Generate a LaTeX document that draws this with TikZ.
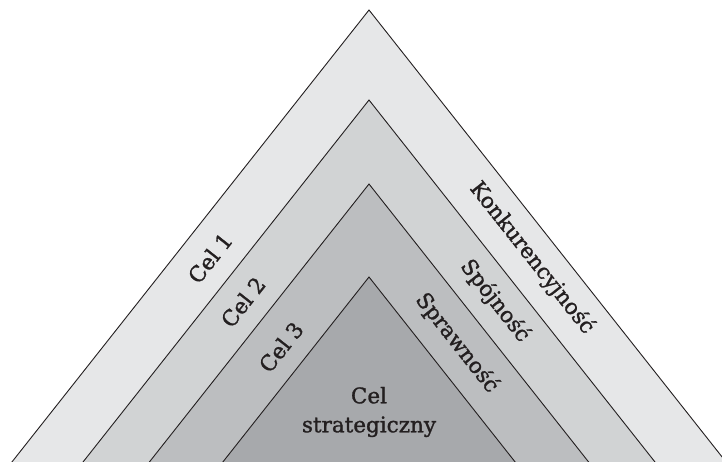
\documentclass[tikz,border=0pt]{standalone}
\usepackage{fontspec}
\setmainfont{DejaVu Serif}
\newfontfamily\labelfont{DejaVu Serif}[FakeBold=1.3]
\usetikzlibrary{calc}
\definecolor{ink}{HTML}{231F20}
\definecolor{shadeA}{HTML}{E6E7E8}
\definecolor{shadeB}{HTML}{D1D3D4}
\definecolor{shadeC}{HTML}{BCBEC0}
\definecolor{shadeD}{HTML}{A7A9AC}
\begin{document}
\begin{tikzpicture}[x=1pt, y=-1pt,
  layer/.style={draw=ink, line width=0.9pt, line join=miter},
  lbl/.style={font=\labelfont\fontsize{21.5}{29}\selectfont, text=ink, inner sep=0pt},
  leftlbl/.style={lbl, rotate=51.7},
  rightlbl/.style={lbl, rotate=-51.7}]
\useasboundingbox (0,0) rectangle (722,462);
\clip (0,0) rectangle (722,462);
% nested triangles, outermost first; sides run at the same slope
\foreach \i/\a/\c in {1/10/shadeA, 2/100/shadeB, 3/184/shadeC, 4/277/shadeD} {
  \coordinate (apex\i) at (369,\a);
  \filldraw[layer, fill=\c]
    ($(apex\i)+({-0.79*(480-\a)},{480-\a})$) -- (apex\i)
    -- ($(apex\i)+({0.79*(480-\a)},{480-\a})$);
}
% labels along the left sides
\node[leftlbl] (cel1) at (210,258) {Cel 1};
\node[leftlbl] (cel2) at (243,302) {Cel 2};
\node[leftlbl] (cel3) at (281,347) {Cel 3};
% labels along the right sides
\node[rightlbl] (konk) at (532,258) {Konkurencyjność};
\node[rightlbl] (spoj) at (495,301) {Spójność};
\node[rightlbl] (spraw) at (457,343) {Sprawność};
% centre label
\node[lbl, align=center] (goal) at (369,412) {Cel\\strategiczny};
\end{tikzpicture}
\end{document}
